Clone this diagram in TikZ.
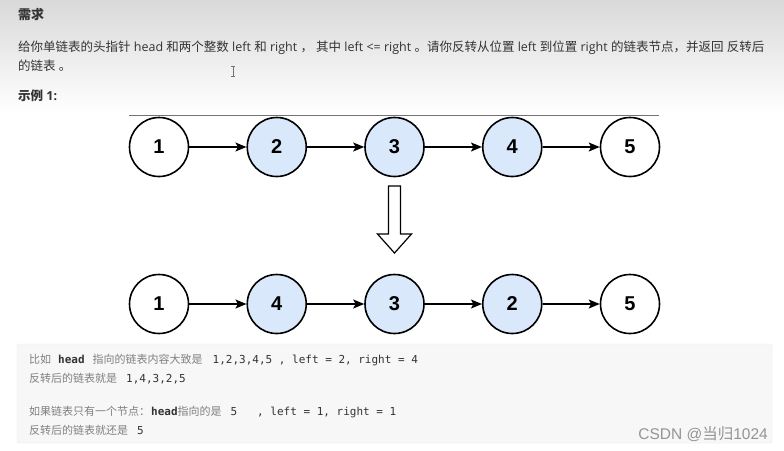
\documentclass[tikz,border=0pt]{standalone}
\usepackage{fontspec}
\setmainfont{Open Sans}
\newfontfamily\cjk{Noto Sans CJK SC}
\newfontfamily\numfont{Liberation Sans}
\newfontfamily\codemono{DejaVu Sans Mono}
\usetikzlibrary{arrows.meta}
\definecolor{txt}{HTML}{333333}
\definecolor{nodeblue}{HTML}{DAE8FC}
\definecolor{codebg}{HTML}{F7F7F7}
\definecolor{codegray}{HTML}{808080}
\tikzset{
  lnode/.style={circle, draw=black, line width=1.6pt, minimum size=59pt, inner sep=0pt, fill=white, font=\numfont\bfseries\fontsize{20}{20}\selectfont},
  hl/.style={fill=nodeblue},
  link/.style={line width=1.4pt, -{Stealth[length=11pt,width=9pt,inset=2.5pt]}},
  para/.style={anchor=base west, inner sep=0pt, text=txt, font=\fontsize{12.5}{15}\selectfont},
  codeline/.style={anchor=base west, inner sep=0pt, font=\fontsize{11}{13}\selectfont},
}
\newcommand{\cz}[1]{{\cjk #1}}
\newcommand{\cg}[1]{{\cjk\color{codegray}#1}}
\newcommand{\cm}[1]{{\codemono\color{black!80}#1}}
\newcommand{\gp}[1]{\hspace*{#1pt}}
\begin{document}
\begin{tikzpicture}[x=1pt,y=-1pt]
\useasboundingbox (0,0) rectangle (784,450);
\fill[white] (0,0) rectangle (784,450);
\shade[top color=black!15, bottom color=white] (0,0) rectangle (784,112);
% header texts
\node[para, font=\cjk\bfseries\fontsize{13}{15}\selectfont] (t0) at (18,19) {需求};
\node[para] (t1) at (18,51) {\cz{给你单链表的头指针} head \cz{和两个整数} left \cz{和} right \cz{，} \cz{其中} left <= right \cz{。请你反转从位置} left \cz{到位置} right \cz{的链表节点，并返回} \cz{反转后}};
\node[para] (t2) at (18,70) {\cz{的链表} \cz{。}};
\node[para, font=\bfseries\fontsize{12.5}{15}\selectfont] (t3) at (18,100) {\cz{示例} 1:};
% cursor
\draw[black!55, line width=0.9pt] (233,66) -- (233,76) (231.3,66) -- (234.7,66) (231.3,76) -- (234.7,76);
% separator line
\draw[black!55, line width=0.8pt] (129,115) -- (659,115);
% top list
\node[lnode] (a1) at (159,147) {1};
\node[lnode,hl] (a2) at (276.75,147) {2};
\node[lnode,hl] (a3) at (394.5,147) {3};
\node[lnode,hl] (a4) at (512.25,147) {4};
\node[lnode] (a5) at (630,147) {5};
\draw[link] (a1) -- (a2);
\draw[link] (a2) -- (a3);
\draw[link] (a3) -- (a4);
\draw[link] (a4) -- (a5);
% hollow down arrow
\draw[line width=1.2pt, fill=white, line join=miter] (388.5,186) -- (400.5,186) -- (400.5,234) -- (411.5,234) -- (394.5,253) -- (377.5,234) -- (388.5,234) -- cycle;
% bottom list
\node[lnode] (b1) at (159,304) {1};
\node[lnode,hl] (b2) at (276.75,304) {4};
\node[lnode,hl] (b3) at (394.5,304) {3};
\node[lnode,hl] (b4) at (512.25,304) {2};
\node[lnode] (b5) at (630,304) {5};
\draw[link] (b1) -- (b2);
\draw[link] (b2) -- (b3);
\draw[link] (b3) -- (b4);
\draw[link] (b4) -- (b5);
% code block
\draw[draw=black!8, fill=codebg, rounded corners=2pt] (17,344) rectangle (772,443);
\node[codeline] (c1) at (29,363) {\cg{比如}\gp{7}\cm{\bfseries head}\gp{8}\cg{指向的链表内容大致是}\gp{10}\cm{1,2,3,4,5 , left = 2, right = 4}};
\node[codeline] (c2) at (29,382) {\cg{反转后的链表就是}\gp{9}\cm{1,4,3,2,5}};
\node[codeline] (c3) at (29,415) {\cg{如果链表只有一个节点：}\gp{1}\cm{\bfseries head}\cg{指向的是}\gp{9}\cm{5\ \ \ , left = 1, right = 1}};
\node[codeline] (c4) at (29,434) {\cg{反转后的链表就还是}\gp{9}\cm{5}};
\node[anchor=base east, inner sep=0pt, text=black!42, font=\numfont\fontsize{15.5}{17}\selectfont] (wm) at (768,439) {CSDN @\cz{当归}1024};
\end{tikzpicture}
\end{document}
